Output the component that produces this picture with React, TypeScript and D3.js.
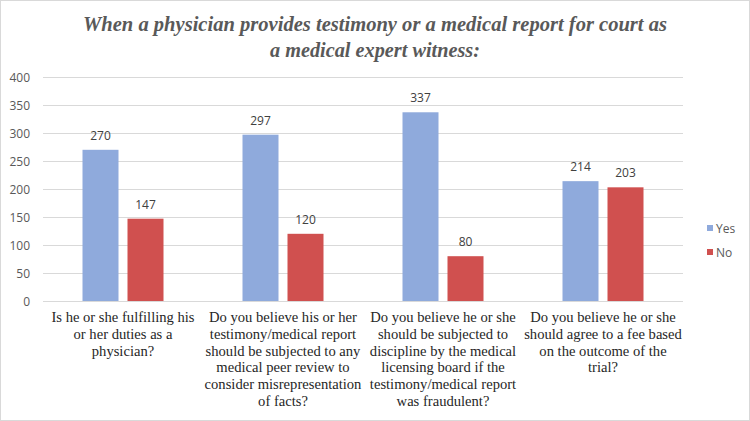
import React from "react";
import * as d3 from "d3";

const categories = [
  ["Is he or she fulfilling his", "or her duties as a", "physician?"],
  ["Do you believe his or her", "testimony/medical report", "should be subjected to any", "medical peer review to", "consider misrepresentation", "of facts?"],
  ["Do you believe he or she", "should be subjected to", "discipline by the medical", "licensing board if the", "testimony/medical report", "was fraudulent?"],
  ["Do you believe he or she", "should agree to a fee based", "on the outcome of the", "trial?"],
];
const yesValues = [270, 297, 337, 214];
const noValues = [147, 120, 80, 203];
const yTicks = [0, 50, 100, 150, 200, 250, 300, 350, 400];
const seriesNames = ["Yes", "No"];
const colors = ["#8FAADC", "#D0504F"];

const W = 750;
const H = 421;
const plot = { left: 43, right: 683, top: 77, bottom: 301 };
const serif = "Liberation Serif";
const sans = "Open Sans";

export default function App() {
  const x = d3.scaleBand<number>().domain(d3.range(categories.length)).range([plot.left, plot.right]);
  const y = d3.scaleLinear().domain([0, 400]).range([plot.bottom, plot.top]);
  const barW = 36;
  const gap = 9;
  const series = [yesValues, noValues];

  return (
    <svg width={W} height={H} style={{ position: "absolute", left: 0, top: 0 }}>
      <rect x={0.5} y={0.5} width={W - 1} height={H - 1} fill="#fff" stroke="#D9D9D9" />
      <text x={375} y={31} textAnchor="middle" fill="#595959" textLength={584} lengthAdjust="spacingAndGlyphs"
        style={{ fontFamily: serif, fontStyle: "italic", fontWeight: "bold", fontSize: "20.5px" }}>
        When a physician provides testimony or a medical report for court as
      </text>
      <text x={375} y={57} textAnchor="middle" fill="#595959" textLength={210} lengthAdjust="spacingAndGlyphs"
        style={{ fontFamily: serif, fontStyle: "italic", fontWeight: "bold", fontSize: "20.5px" }}>
        a medical expert witness:
      </text>
      {yTicks.map((t) => (
        <g key={t}>
          <line x1={plot.left} x2={plot.right} y1={y(t) + 0.5} y2={y(t) + 0.5} stroke="#D9D9D9" />
          <text x={30} y={y(t) + 4.5} textAnchor="end" style={{ fontFamily: sans, fontSize: "12px" }} fill="#595959">
            {t}
          </text>
        </g>
      ))}
      {categories.map((_, i) => {
        const cx = (x(i) ?? 0) + x.bandwidth() / 2;
        return series.map((vals, s) => {
          const bx = s === 0 ? cx - gap / 2 - barW : cx + gap / 2;
          const v = vals[i];
          return (
            <g key={`${i}-${s}`}>
              <rect x={bx} y={y(v)} width={barW} height={y(0) - y(v)} fill={colors[s]} />
              <text x={bx + barW / 2} y={y(v) - 10} textAnchor="middle" style={{ fontFamily: sans, fontSize: "12px" }} fill="#404040">
                {v}
              </text>
            </g>
          );
        });
      })}
      {categories.map((lines, i) => {
        const cx = (x(i) ?? 0) + x.bandwidth() / 2;
        return lines.map((l, j) => (
          <text key={`${i}-${j}`} x={cx} y={322 + j * 16.8} textAnchor="middle" style={{ fontFamily: serif, fontSize: "14.6px" }} fill="#262626">
            {l}
          </text>
        ));
      })}
      {seriesNames.map((n, s) => (
        <g key={n}>
          <rect x={707} y={225 + s * 24} width={6} height={6} fill={colors[s]} />
          <text x={716} y={232.5 + s * 24} style={{ fontFamily: sans, fontSize: "12px" }} fill="#595959">
            {n}
          </text>
        </g>
      ))}
    </svg>
  );
}
